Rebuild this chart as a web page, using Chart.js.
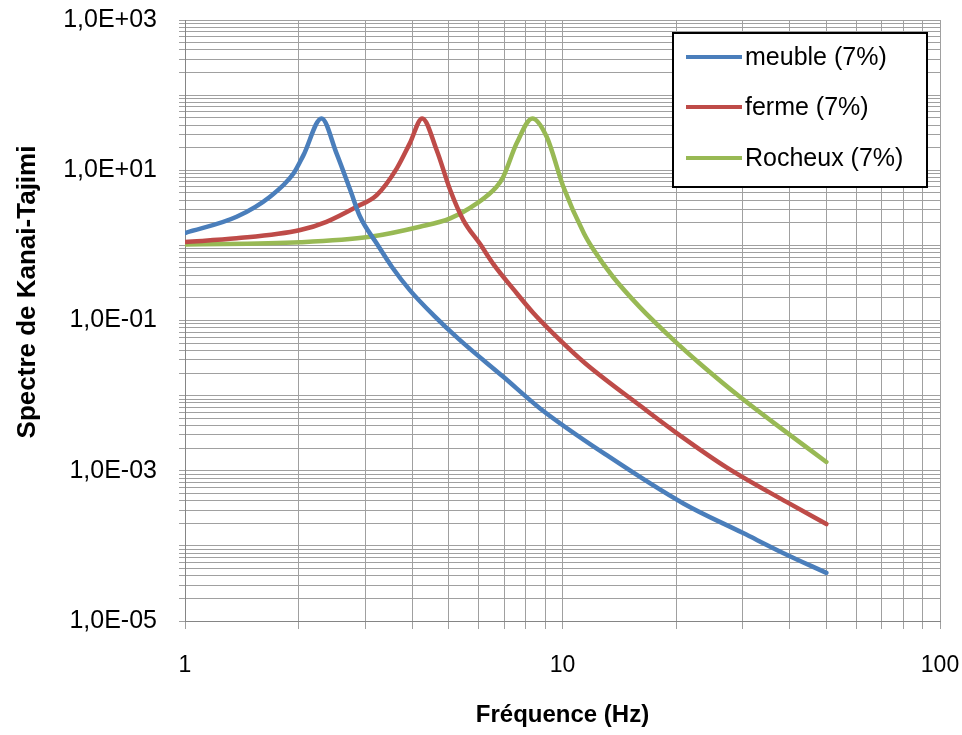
<!DOCTYPE html>
<html>
<head>
<meta charset="utf-8">
<title>Spectre de Kanai-Tajimi</title>
<script src="https://cdn.jsdelivr.net/npm/chart.js@4.4.1/dist/chart.umd.min.js"></script>
<style>
  html, body { margin: 0; padding: 0; background: #fff; }
  #wrap { width: 962px; height: 735px; }
</style>
</head>
<body>
<div id="wrap"><canvas id="kt-chart" width="962" height="735"></canvas></div>
<script>
  "use strict";

  // Data (Hz, spectrum value)
  var meubleFreq = [1, 1.37, 1.68, 1.94, 2.06, 2.3, 2.52, 2.74, 2.91, 3.22, 3.53, 3.94, 4.55, 5.35, 6.97, 8.72, 13.1, 20.9, 30.1, 38.5, 50];
  var meubleVal = [1.46, 2.4, 4.44, 9.1, 15.9, 49, 16.8, 5.45, 2.4, 1.06, 0.52, 0.254, 0.118, 0.0548, 0.0178, 0.00676, 0.00161, 3.67e-4, 1.48e-4, 8.0e-5, 4.37e-5];

  var fermeFreq = [1, 1.37, 2.02, 2.37, 2.85, 3.22, 3.64, 3.94, 4.25, 4.64, 5.04, 5.46, 6.05, 6.56, 7.41, 8.37, 9.85, 11.5, 16.4, 20.5, 27.2, 39.3, 50];
  var fermeVal = [1.11, 1.24, 1.6, 2.06, 3.27, 4.67, 10.6, 22.8, 49, 18.6, 5.45, 2.17, 1.04, 0.564, 0.262, 0.126, 0.0548, 0.0268, 0.00678, 0.00294, 0.00111, 3.82e-4, 1.95e-4];

  var rocheuxFreq = [1, 2.02, 3.09, 4.19, 5.04, 5.93, 6.69, 6.97, 7.56, 8.32, 9.08, 10.05, 11.4, 12.1, 13.6, 16, 19.7, 23.1, 29.5, 38.5, 50];
  var rocheuxVal = [1.03, 1.1, 1.3, 1.77, 2.29, 3.62, 6.03, 8.2, 22.8, 49, 27.9, 6.03, 1.44, 0.866, 0.382, 0.152, 0.0548, 0.0268, 0.00964, 0.00347, 0.00131];

  var seriesLabels = ["meuble (7%)", "ferme (7%)", "Rocheux (7%)"];
  var seriesColors = ["#4a7ebb", "#be4b48", "#98b954"];

  // Tick labels
  var xTickLabels = [1, 10, 100];
  var yLabelValues = [1e-5, 1e-3, 1e-1, 1e1, 1e3];
  var yTickLabels = ["1,0E-05", "1,0E-03", "1,0E-01", "1,0E+01", "1,0E+03"];

  var gridColor = "#a0a0a0";
  var axisColor = "#858585";
  var fontFamily = "'Liberation Sans', Arial, sans-serif";

  function toPoints(xs, ys) {
    return xs.map(function (x, i) {
      return { x: x, y: ys[i] };
    });
  }

  // 1..9 per decade, used for the log grid
  function logTicks(minExp, maxExp) {
    var out = [];
    for (var e = minExp; e < maxExp; e++) {
      for (var m = 1; m <= 9; m++) {
        out.push({ value: parseFloat((m * Math.pow(10, e)).toPrecision(6)) });
      }
    }
    out.push({ value: Math.pow(10, maxExp) });
    return out;
  }

  function sameLog(a, b) {
    return Math.abs(Math.log10(a) - Math.log10(b)) < 1e-6;
  }

  // Legend box inside the plot + vertical axis title
  var boxLegend = {
    id: "boxLegend",
    afterDraw: function (chart) {
      var ctx = chart.ctx;
      ctx.save();
      ctx.fillStyle = "#fff";
      ctx.fillRect(673, 33, 254, 154);
      ctx.strokeStyle = "#000";
      ctx.lineWidth = 2;
      ctx.strokeRect(673, 33, 254, 154);

      ctx.font = "25px " + fontFamily;
      ctx.textBaseline = "middle";
      ctx.textAlign = "left";
      var rows = [57, 107, 158];
      chart.data.datasets.forEach(function (ds, i) {
        ctx.strokeStyle = ds.borderColor;
        ctx.lineWidth = 4;
        ctx.beginPath();
        ctx.moveTo(686, rows[i]);
        ctx.lineTo(742, rows[i]);
        ctx.stroke();
        ctx.fillStyle = "#000";
        ctx.fillText(ds.label, 745, rows[i] + 1);
      });

      ctx.translate(28, 292);
      ctx.rotate(-Math.PI / 2);
      ctx.font = "bold 26px " + fontFamily;
      ctx.textAlign = "center";
      ctx.fillText("Spectre de Kanai-Tajimi", 0, 0);
      ctx.restore();
    },
  };

  var datasets = [
    toPoints(meubleFreq, meubleVal),
    toPoints(fermeFreq, fermeVal),
    toPoints(rocheuxFreq, rocheuxVal),
  ].map(function (pts, i) {
    return {
      label: seriesLabels[i],
      data: pts,
      borderColor: seriesColors[i],
      backgroundColor: seriesColors[i],
      borderWidth: 4.5,
      pointRadius: 0,
      cubicInterpolationMode: "monotone",
      fill: false,
      borderJoinStyle: "round",
      borderCapStyle: "round",
    };
  });

  var ctx = document.getElementById("kt-chart").getContext("2d");
  var ktChart = new Chart(ctx, {
    type: "line",
    data: { datasets: datasets },
    plugins: [boxLegend],
    options: {
      responsive: false,
      animation: false,
      devicePixelRatio: 1,
      layout: { padding: { top: 20, right: 22, bottom: 0, left: 0 } },
      plugins: {
        legend: { display: false },
        tooltip: { enabled: false },
      },
      scales: {
        x: {
          type: "logarithmic",
          min: 1,
          max: 100,
          afterBuildTicks: function (scale) {
            scale.ticks = logTicks(0, 2);
          },
          afterFit: function (scale) {
            scale.height = 114;
            scale.paddingLeft = 0;
            scale.paddingRight = 0;
          },
          grid: { color: gridColor, lineWidth: 1, tickLength: 8 },
          border: { color: axisColor, width: 1 },
          ticks: {
            autoSkip: false,
            maxRotation: 0,
            color: "#000",
            padding: 23,
            font: { family: fontFamily, size: 23 },
            callback: function (value) {
              for (var i = 0; i < xTickLabels.length; i++) {
                if (sameLog(value, xTickLabels[i])) return String(xTickLabels[i]);
              }
              return "";
            },
          },
          title: {
            display: true,
            text: "Fréquence (Hz)",
            color: "#000",
            font: { family: fontFamily, size: 24, weight: "bold" },
            padding: { top: 0, bottom: 5 },
          },
        },
        y: {
          type: "logarithmic",
          min: 1e-5,
          max: 1e3,
          afterBuildTicks: function (scale) {
            scale.ticks = logTicks(-5, 3);
          },
          afterFit: function (scale) {
            scale.width = 185;
            scale.paddingTop = 0;
            scale.paddingBottom = 0;
          },
          grid: { color: gridColor, lineWidth: 1, tickLength: 6 },
          border: { color: axisColor, width: 1 },
          ticks: {
            autoSkip: false,
            color: "#000",
            padding: 22,
            font: { family: fontFamily, size: 25 },
            callback: function (value) {
              for (var i = 0; i < yLabelValues.length; i++) {
                if (sameLog(value, yLabelValues[i])) return yTickLabels[i];
              }
              return "";
            },
          },
        },
      },
    },
  });
</script>
</body>
</html>
